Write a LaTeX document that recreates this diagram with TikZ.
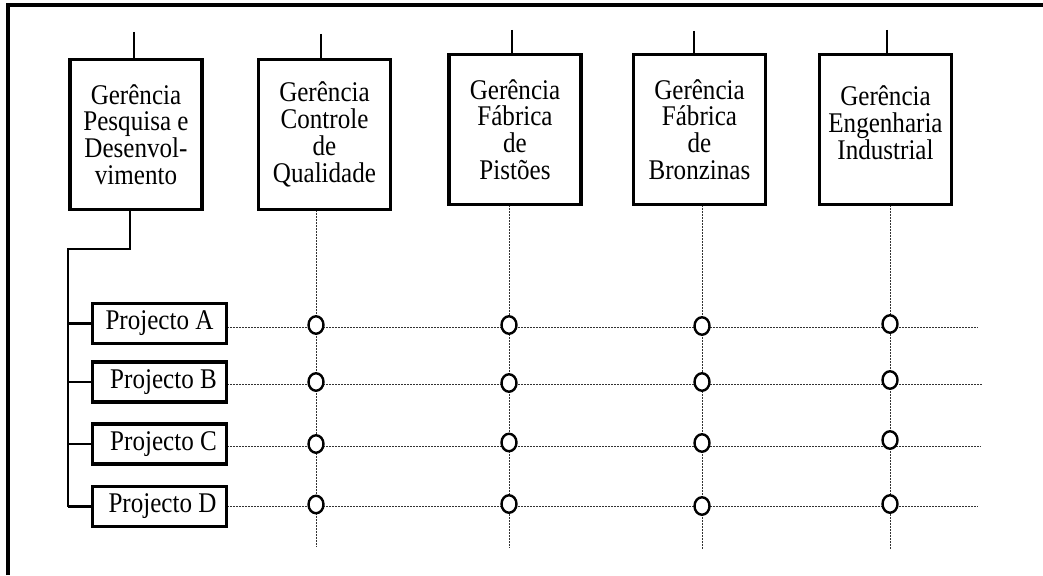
\documentclass[tikz,border=0pt]{standalone}
\usepackage{fontspec}
\setmainfont{Liberation Serif}[FakeStretch=0.88]
\usetikzlibrary{shapes.geometric,calc}
\begin{document}
\begin{tikzpicture}[x=1pt,y=-1pt,
  txtfont/.style={font=\fontsize{28.5}{26.8}\selectfont},
  mgr/.style={draw, line width=3.5pt, minimum width=132pt, minimum height=150pt, inner sep=0pt, align=center, txtfont},
  proj/.style={draw, line width=3.5pt, minimum width=134pt, minimum height=40pt, inner sep=0pt, txtfont},
  conn/.style={line width=2.4pt},
  dotl/.style={line width=1pt, black!80, dash pattern=on 1pt off 0.5pt},
  ring/.style={ellipse, draw, fill=white, line width=2.4pt, minimum width=15pt, minimum height=17.5pt, inner sep=0pt},
  frame/.style={line width=3.2pt}
]
\useasboundingbox (0,0) rectangle (1043,575);
\fill[white] (0,0) rectangle (1043,575);

% frame
\coordinate (fl) at (8,575);
\coordinate (ft) at (8,5);
\coordinate (fr) at (1043,5);
\draw[frame] (fl) -- (ft) -- (fr);

% manager boxes
\node[mgr] (g1) at (136,134.5) {Gerência\\Pesquisa e\\Desenvol-\\vimento};
\node[mgr] (g2) at (324.5,134.5) {Gerência\\Controle\\de\\Qualidade};
\node[mgr] (g3) at (515,129.5) {Gerência\\Fábrica\\de\\Pistões};
\node[mgr] (g4) at (699.5,129.5) {Gerência\\Fábrica\\de\\Bronzinas};
\node[mgr, label={[yshift=7pt,align=center,txtfont]center:Gerência\\Engenharia\\Industrial}] (g5) at (885.5,129.5) {};

% top stubs
\coordinate (t1) at (134,32);
\coordinate (t2) at (321,34);
\coordinate (t3) at (512,30);
\coordinate (t4) at (694,31);
\coordinate (t5) at (887,30);
\draw[conn] (t1) -- (g1.north -| t1);
\draw[conn] (t2) -- (g2.north -| t2);
\draw[conn] (t3) -- (g3.north -| t3);
\draw[conn] (t4) -- (g4.north -| t4);
\draw[conn] (t5) -- (g5.north -| t5);

% project boxes
\node[proj] (pA) at (159.5,323.5) {Projecto A};
\node[proj] (pB) at (159.5,382) {\hspace*{8pt}Projecto B};
\node[proj] (pC) at (159.5,444) {\hspace*{8pt}Projecto C};
\node[proj] (pD) at (159.5,506.5) {\hspace*{6pt}Projecto D};

% tree connector from R&D
\coordinate (c1) at (130,249);
\coordinate (bend) at (68,249);
\draw[conn] (g1.south -| c1) -- (c1) -- (bend) -- (bend |- pD.west);
\draw[conn] (bend |- pA.west) -- (pA.west);
\draw[conn] (bend |- pB.west) -- (pB.west);
\draw[conn] (bend |- pC.west) -- (pC.west);
\draw[conn] (bend |- pD.west) -- (pD.west);

% dotted verticals
\coordinate (v1) at (316,547);
\coordinate (v2) at (509,547);
\coordinate (v3) at (702,549);
\coordinate (v4) at (890,549);
\draw[dotl] (g2.south -| v1) -- (v1);
\draw[dotl] (g3.south -| v2) -- (v2);
\draw[dotl] (g4.south -| v3) -- (v3);
\draw[dotl] (g5.south -| v4) -- (v4);

% dotted horizontals
\coordinate (hA) at (978,327);
\coordinate (hB) at (982,384);
\coordinate (hC) at (980,446);
\coordinate (hD) at (978,506);
\draw[dotl] (pA.east |- hA) -- (hA);
\draw[dotl] (pB.east |- hB) -- (hB);
\draw[dotl] (pC.east |- hC) -- (hC);
\draw[dotl] (pD.east |- hD) -- (hD);

% rings
\node[ring] (a1) at (316,325) {};
\node[ring] (b1) at (316,382) {};
\node[ring] (c1r) at (316,444) {};
\node[ring] (d1) at (316,504.5) {};
\node[ring] (a2) at (509,325) {};
\node[ring] (b2) at (509,383) {};
\node[ring] (c2) at (509,442.5) {};
\node[ring] (d2) at (509,504) {};
\node[ring] (a3) at (702,326) {};
\node[ring] (b3) at (702,382) {};
\node[ring] (c3) at (702,443) {};
\node[ring] (d3) at (702,506) {};
\node[ring] (a4) at (890,324) {};
\node[ring] (b4) at (890,380) {};
\node[ring] (c4) at (890,440) {};
\node[ring] (d4) at (890,504) {};
\end{tikzpicture}
\end{document}
